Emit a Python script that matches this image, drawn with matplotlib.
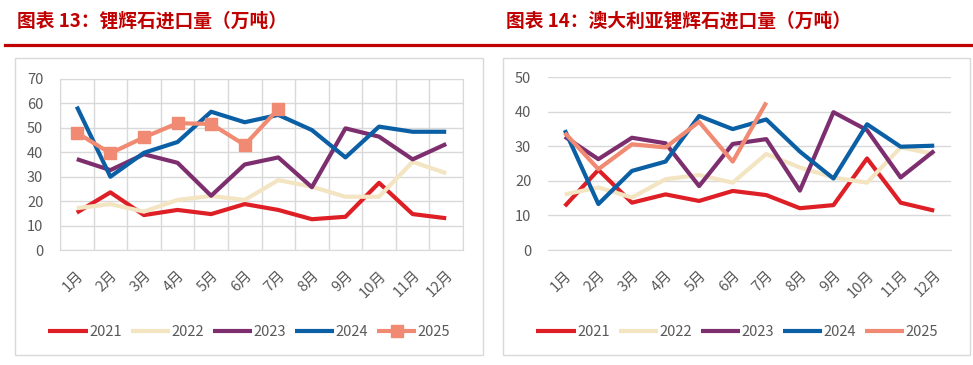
import matplotlib
matplotlib.use("Agg")
import matplotlib.pyplot as plt
from matplotlib.patches import Rectangle
from matplotlib.lines import Line2D

plt.rcParams['font.family'] = ['Noto Sans CJK SC', 'DejaVu Sans']

months = ['1月', '2月', '3月', '4月', '5月', '6月', '7月', '8月', '9月', '10月', '11月', '12月']
years = ['2021', '2022', '2023', '2024', '2025']
colors = ['#DE1F26', '#F3E4C2', '#7D2E6F', '#0B5FA5', '#F08A72']

# 图表13 锂辉石进口量
total_2021 = [15.3, 23.6, 14.3, 16.4, 14.7, 18.8, 16.4, 12.6, 13.6, 27.5, 14.7, 13.0]
total_2022 = [17.1, 18.8, 15.7, 20.5, 22.1, 20.5, 28.6, 25.9, 21.8, 21.8, 36.1, 31.4]
total_2023 = [37.2, 32.7, 39.2, 35.7, 22.2, 35.0, 37.9, 25.7, 49.8, 46.4, 37.1, 43.4]
total_2024 = [58.7, 30.0, 39.8, 44.2, 56.6, 52.3, 55.3, 49.1, 37.9, 50.5, 48.4, 48.4]
total_2025 = [48.0, 39.6, 46.1, 51.9, 51.6, 43.0, 57.7]

# 图表14 澳大利亚锂辉石进口量
aus_2021 = [12.7, 23.2, 13.7, 16.1, 14.2, 17.1, 15.9, 12.1, 13.0, 26.5, 13.7, 11.4]
aus_2022 = [16.1, 18.1, 15.2, 20.5, 21.7, 19.5, 27.8, 23.9, 21.0, 19.5, 29.7, 27.8]
aus_2023 = [32.8, 26.3, 32.5, 30.9, 18.5, 30.7, 32.1, 17.2, 39.9, 34.7, 21.0, 28.7]
aus_2024 = [34.7, 13.3, 22.9, 25.6, 38.8, 35.0, 37.8, 28.5, 20.7, 36.4, 29.9, 30.2]
aus_2025 = [33.9, 23.4, 30.6, 29.7, 37.1, 25.6, 42.7]

W, H = 973, 365
fig = plt.figure(figsize=(W / 100, H / 100), dpi=100)

title_red = '#C00000'
grid_c = '#D9D9D9'
tick_c = '#595959'


def fx(px):
    return px / W


def fy(py):
    return 1 - py / H


# titles and red rules
fig.text(fx(17), fy(21), '图表 13：锂辉石进口量（万吨）', color=title_red,
         fontsize=13.5, fontweight='bold', va='center', ha='left')
fig.text(fx(506), fy(21), '图表 14：澳大利亚锂辉石进口量（万吨）', color=title_red,
         fontsize=13.5, fontweight='bold', va='center', ha='left')
fig.add_artist(Line2D([fx(5), fx(489)], [fy(44.5), fy(44.5)], color=title_red, lw=2.3))
fig.add_artist(Line2D([fx(492), fx(973)], [fy(44.5), fy(44.5)], color=title_red, lw=2.3))

# chart boxes
fig.add_artist(Rectangle((fx(15), fy(355)), fx(468), 297 / H, transform=fig.transFigure,
                         fill=False, edgecolor=grid_c, lw=1))
fig.add_artist(Rectangle((fx(503), fy(355)), fx(467), 297 / H, transform=fig.transFigure,
                         fill=False, edgecolor=grid_c, lw=1))


def draw(ax, series, ymax, full_grid):
    x = list(range(len(months)))
    for name, vals, c in zip(years, series, colors):
        xs = x[:len(vals)]
        if name == '2025' and full_grid:
            ax.plot(xs, vals, color=c, lw=3, marker='s', markersize=8.5,
                    solid_capstyle='butt', label=name)
        else:
            ax.plot(xs, vals, color=c, lw=3, solid_capstyle='butt', label=name)
    ax.set_xlim(-0.5, 11.5)
    ax.set_ylim(0, ymax)
    ax.set_yticks(range(0, ymax + 1, 10))
    ax.set_xticks(x)
    ax.set_xticklabels(months, rotation=45, ha='right', va='top', rotation_mode='anchor')
    ax.tick_params(axis='both', length=0, colors=tick_c, labelsize=10.5)
    ax.tick_params(axis='y', pad=12)
    ax.tick_params(axis='x', pad=13)
    ax.set_axisbelow(True)
    ax.yaxis.grid(True, color=grid_c, lw=1)
    if full_grid:
        ax.set_xticks([i - 0.5 for i in range(13)], minor=True)
        ax.tick_params(axis='x', which='minor', length=0)
        ax.xaxis.grid(True, which='minor', color=grid_c, lw=1)
        for s in ax.spines.values():
            s.set_color(grid_c)
    else:
        for k in ['left', 'right', 'top']:
            ax.spines[k].set_visible(False)
        ax.spines['bottom'].set_color(grid_c)
    ax.legend(loc='upper center', bbox_to_anchor=(0.47, -0.36), ncol=5, frameon=False,
              fontsize=10.5, handlelength=2.7, handletextpad=0.1, columnspacing=0.6,
              labelcolor=tick_c)


ax1 = fig.add_axes([fx(60), fy(250), fx(403), (250 - 79) / H])
draw(ax1, [total_2021, total_2022, total_2023, total_2024, total_2025], 70, True)

ax2 = fig.add_axes([fx(548), fy(250), fx(403), (250 - 77.3) / H])
draw(ax2, [aus_2021, aus_2022, aus_2023, aus_2024, aus_2025], 50, False)

fig.savefig('out.png', dpi=100)
